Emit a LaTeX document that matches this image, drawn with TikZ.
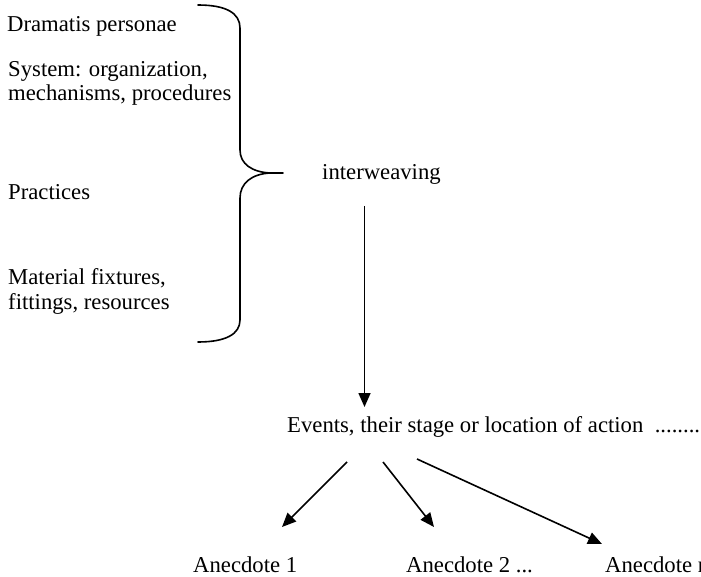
\documentclass[tikz,border=0pt]{standalone}
\usepackage{fontspec}
\setmainfont{Liberation Serif}
\usetikzlibrary{arrows.meta}
\begin{document}
\begin{tikzpicture}[x=1pt,y=-1pt,
  lbl/.style={inner sep=0pt,anchor=base west,align=left,
    font=\fontsize{22.7}{24.5}\selectfont},
  arr/.style={line width=1.6pt,-{Triangle[length=14pt,width=12pt]}},
  brace/.style={line width=1.6pt,line cap=round,line join=round}]
\useasboundingbox (0,0) rectangle (701,577);
\clip (0,0) rectangle (701,577);

% left-hand list of elements
\node[lbl] (dp)  at (7,32)   {Dramatis personae};
\node[lbl] (sys) at (8,101)  {System: organization,\\mechanisms, procedures};
\node[lbl] (pr)  at (8,200)  {Practices};
\node[lbl] (mat) at (8,309)  {Material fixtures,\\fittings, resources};

% curly brace gathering the elements
\draw[brace] (198,5) .. controls (226,5) and (240,13) .. (240,28)
  -- (240,150) .. controls (240,164) and (252,172) .. (270,173) -- (283,173);
\draw[brace] (270,173) .. controls (252,174) and (240,183) .. (240,198)
  -- (240,320) .. controls (240,334) and (226,342) .. (198,342);

\node[lbl] (iw) at (322,180) {interweaving};

\node[lbl] (ev) at (287,432) {Events, their stage or location of action\ \ ........};

\node[lbl] (a1) at (193,572) {Anecdote 1};
\node[lbl] (a2) at (406,572) {Anecdote 2 ...};
\node[lbl] (an) at (605,572) {Anecdote n};

% connector end points
\coordinate (iwout) at (364.5,206);
\coordinate (evin)  at (364.5,407);
\coordinate (ev1)   at (347,462);
\coordinate (ev2)   at (383,462);
\coordinate (ev3)   at (417,459);
\coordinate (in1)   at (282,527);
\coordinate (in2)   at (434,527);
\coordinate (inn)   at (602,544);

\draw[arr] (iwout) -- (evin);
\draw[arr] (ev1) -- (in1);
\draw[arr] (ev2) -- (in2);
\draw[arr] (ev3) -- (inn);
\end{tikzpicture}
\end{document}
